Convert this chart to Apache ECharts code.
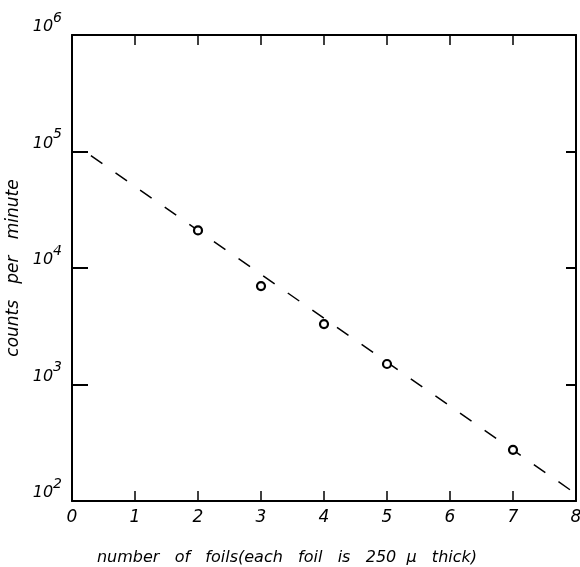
<!DOCTYPE html>
<html lang="en">
<head>
    <meta charset="UTF-8">
    <script src="https://cdn.jsdelivr.net/npm/echarts@6/dist/echarts.min.js"></script>
    <title>Counts vs foils</title>
    <style>
        html, body { margin: 0; padding: 0; background: #fff; }
        #myChart { width: 580px; height: 567px; }
    </style>
</head>
<body>
    <div id="myChart"></div>
    <script>
        // measured points (number of foils, counts per minute)
        var foils = [2, 3, 4, 5, 7];
        var counts = [21000, 7000, 3300, 1500, 275];
        // dashed fit line end points
        var fitX = [0.3, 7.95];
        var fitY = [92000, 120];
        var xTicks = ['0', '1', '2', '3', '4', '5', '6', '7', '8'];

        var font = 'DejaVu Sans';
        var dom = document.getElementById('myChart');
        var myChart = echarts.init(dom);

        var axisLine = { show: true, onZero: false, lineStyle: { color: '#000', width: 2 } };

        var option = {
            backgroundColor: '#fff',
            animation: false,
            grid: { left: 72, right: 4, top: 35, bottom: 66, containLabel: false, outerBoundsMode: 'none' },
            xAxis: [{
                type: 'value',
                min: 0, max: 8, interval: 1,
                position: 'bottom',
                axisLine: axisLine,
                axisTick: { show: true, inside: true, length: 10, lineStyle: { color: '#000', width: 1.5 } },
                splitLine: { show: false },
                axisLabel: {
                    margin: 8,
                    fontFamily: font, fontStyle: 'italic', fontSize: 17, color: '#000',
                    formatter: function (v) { return xTicks[v]; }
                },
                name: 'number   of   foils(each   foil   is   250  \u03bc   thick)',
                nameLocation: 'middle',
                nameGap: 49,
                nameTextStyle: {
                    fontFamily: font, fontStyle: 'italic', fontSize: 16, color: '#000',
                    padding: [0, 74, 0, 0]
                }
            }, {
                type: 'value',
                min: 0, max: 8, interval: 1,
                position: 'top',
                axisLine: axisLine,
                axisTick: { show: true, inside: true, length: 10, lineStyle: { color: '#000', width: 1.5 } },
                splitLine: { show: false },
                axisLabel: { show: false }
            }],
            yAxis: [{
                type: 'log',
                logBase: 10,
                min: 100, max: 1000000,
                position: 'left',
                axisLine: axisLine,
                axisTick: { show: true, inside: true, length: 16, lineStyle: { color: '#000', width: 2 } },
                minorTick: { show: false },
                splitLine: { show: false },
                axisLabel: {
                    margin: 10,
                    verticalAlign: 'bottom',
                    formatter: function (v) {
                        var e = Math.round(Math.log10(v));
                        return '{b|10}{s|' + e + '}';
                    },
                    rich: {
                        b: { fontFamily: font, fontStyle: 'italic', fontSize: 16, color: '#000', lineHeight: 24, verticalAlign: 'bottom' },
                        s: { fontFamily: font, fontStyle: 'italic', fontSize: 14, color: '#000', lineHeight: 24, verticalAlign: 'top', padding: [0, 0, 14, 0] }
                    }
                },
                name: 'counts   per   minute',
                nameLocation: 'middle',
                nameGap: 50,
                nameMoveOverlap: false,
                nameTextStyle: {
                    fontFamily: font, fontStyle: 'italic', fontSize: 17, color: '#000',
                    padding: [12, 0, 0, 0]
                }
            }, {
                type: 'log',
                logBase: 10,
                min: 100, max: 1000000,
                position: 'right',
                axisLine: axisLine,
                axisTick: { show: true, inside: true, length: 10, lineStyle: { color: '#000', width: 2 } },
                splitLine: { show: false },
                axisLabel: { show: false }
            }],
            series: [{
                type: 'line',
                data: fitX.map(function (x, i) { return [x, fitY[i]]; }),
                showSymbol: false,
                symbol: 'none',
                lineStyle: { color: '#000', width: 1.5, type: [14, 16] },
                z: 2
            }, {
                type: 'scatter',
                data: foils.map(function (x, i) { return [x, counts[i]]; }),
                symbol: 'circle',
                symbolSize: 8,
                itemStyle: { color: '#fff', borderColor: '#000', borderWidth: 2.2, opacity: 1 },
                z: 3
            }]
        };
        myChart.setOption(option);
    </script>
</body>
</html>
